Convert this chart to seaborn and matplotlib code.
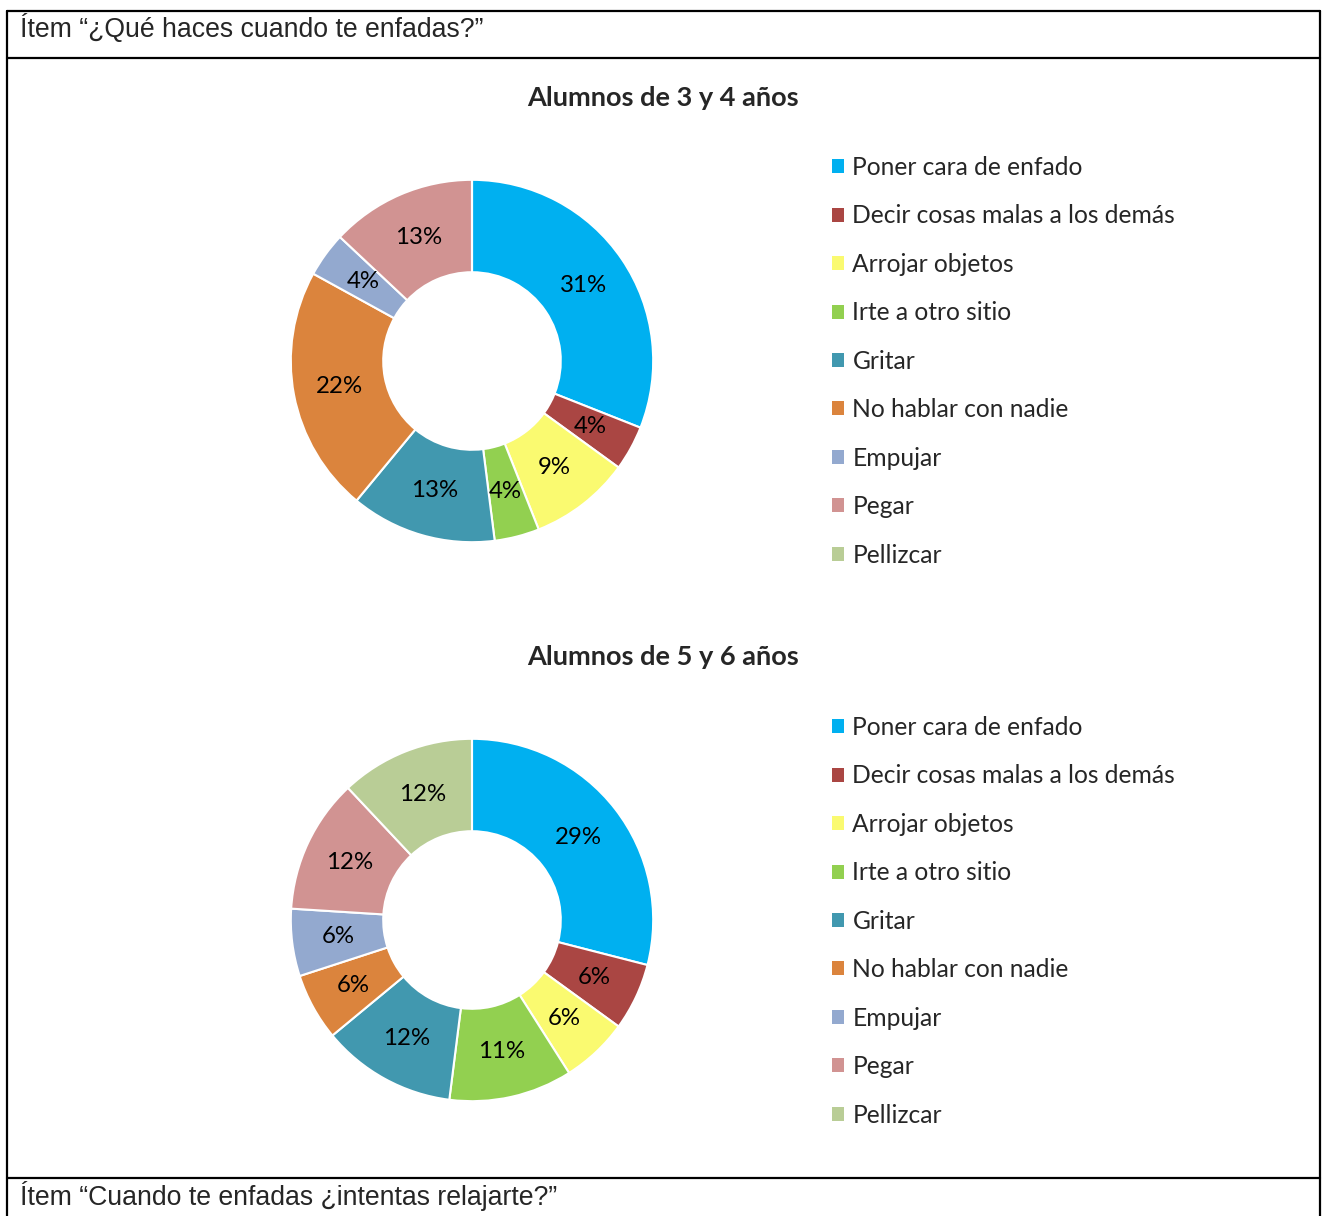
import numpy as np
import pandas as pd
import seaborn as sns
import matplotlib.pyplot as plt
from matplotlib.patches import Patch
from matplotlib.lines import Line2D

# categories and values
categorias = ["Poner cara de enfado", "Decir cosas malas a los demás", "Arrojar objetos",
              "Irte a otro sitio", "Gritar", "No hablar con nadie", "Empujar", "Pegar", "Pellizcar"]
pct_3_4 = [31, 4, 9, 4, 13, 22, 4, 13, 0]
pct_5_6 = [29, 6, 6, 11, 12, 6, 6, 12, 12]
titulos = ["Alumnos de 3 y 4 años", "Alumnos de 5 y 6 años"]
colores = ["#00B0F0", "#AA4643", "#FAFA70", "#92D050", "#4198AF",
           "#DB843D", "#93A9CF", "#D19392", "#B9CD96"]

df = pd.DataFrame({"categoria": categorias, "3y4": pct_3_4, "5y6": pct_5_6})

sns.set_theme(style="white")
plt.rcParams["font.family"] = ["Lato", "DejaVu Sans"]

W, H = 1322, 1216
fig = plt.figure(figsize=(W / 100, H / 100), dpi=100)
fig.patch.set_facecolor("white")


def fx(x):
    return x / W


def fy(y):
    return 1 - y / H


# table frame
lw = 1.6
for (x0, y0, x1, y1) in [(7, 11, 1320, 11), (7, 58, 1320, 58), (7, 1178, 1320, 1178),
                         (7, 11, 7, 1216), (1320, 11, 1320, 1216)]:
    fig.add_artist(Line2D([fx(x0), fx(x1)], [fy(y0), fy(y1)], color="black", lw=lw))

fig.text(fx(20), fy(28), "Ítem “¿Qué haces cuando te enfadas?”", family="Liberation Sans",
         fontsize=19.2, va="center", ha="left")
fig.text(fx(20), fy(1196), "Ítem “Cuando te enfadas ¿intentas relajarte?”", family="Liberation Sans",
         fontsize=19.2, va="center", ha="left")

centros_y = [361, 920]
titulos_y = [98, 657]
leg_y = [156, 716]
r = 183
cx = 472

for col, cy, ty, ly, tit in zip(["3y4", "5y6"], centros_y, titulos_y, leg_y, titulos):
    ax = fig.add_axes([fx(cx - r), fy(cy + r), fx(2 * r), 2 * r / H])
    vals = df[col].values
    wedges, texts, autotexts = ax.pie(
        vals, colors=colores, startangle=90, counterclock=False, radius=1,
        autopct=lambda p: f"{p:.0f}%" if p > 0.5 else "", pctdistance=0.745,
        wedgeprops=dict(width=0.51, edgecolor="white", linewidth=1.5),
        textprops=dict(fontsize=17.3, color="black"))
    ax.set_xlim(-1.01, 1.01)
    ax.set_ylim(-1.01, 1.01)
    ax.axis("off")
    fig.text(fx(663), fy(ty), tit, fontsize=19.5, fontweight="bold", ha="center", va="center")
    handles = [Patch(facecolor=c, edgecolor="none") for c in colores]
    fig.legend(handles, categorias, loc="upper left", bbox_to_anchor=(fx(832), fy(ly)),
               frameon=False, fontsize=17.7, labelspacing=1.035, handlelength=0.5,
               handleheight=0.5, handletextpad=0.33, borderpad=0, borderaxespad=0)

plt.savefig("out.png", dpi=100)
